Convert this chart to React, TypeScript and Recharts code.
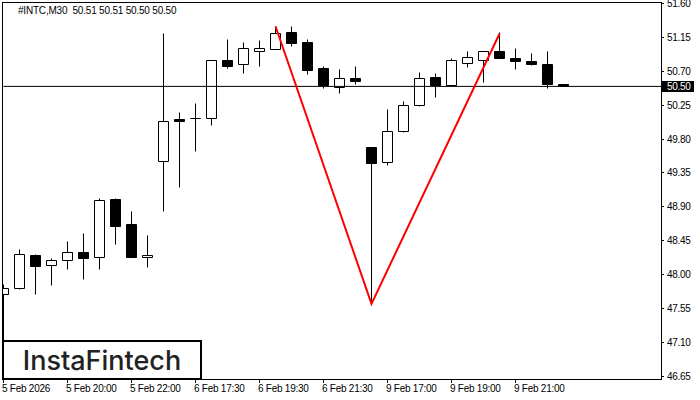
import { Bar, ComposedChart, Line, ReferenceLine, XAxis, YAxis } from "recharts";

const opens = [47.74, 47.82, 48.25, 48.12, 48.19, 48.29, 48.22, 49.0, 48.66, 48.22, 49.5, 50.06, 50.07, 50.08, 50.85, 50.79, 50.97, 50.99, 51.21, 51.09, 50.74, 50.49, 50.6, 49.69, 49.49, 49.9, 50.25, 50.62, 50.51, 50.81, 50.85, 50.96, 50.87, 50.83, 50.79, 50.52];
const highs = [47.87, 48.33, 48.26, 48.21, 48.44, 48.54, 49.01, 49.01, 48.84, 48.52, 51.2, 50.15, 50.27, 50.85, 51.12, 51.09, 51.11, 51.29, 51.29, 51.13, 50.76, 50.72, 50.76, 49.69, 50.19, 50.3, 50.68, 50.67, 50.87, 50.96, 50.96, 51.21, 51.0, 50.94, 50.96, 50.52];
const lows = [46.63, 47.8, 47.73, 47.85, 48.07, 47.93, 48.07, 48.4, 48.22, 48.1, 48.84, 49.16, 49.63, 49.98, 50.74, 50.67, 50.77, 50.99, 51.03, 50.66, 50.47, 50.4, 50.52, 47.61, 49.45, 49.89, 50.23, 50.35, 50.51, 50.75, 50.55, 50.87, 50.72, 50.78, 50.47, 50.5];
const closes = [47.81, 48.26, 48.11, 48.18, 48.29, 48.21, 48.98, 48.64, 48.23, 48.25, 50.03, 50.04, 50.07, 50.85, 50.77, 51.0, 51.01, 51.2, 51.07, 50.71, 50.51, 50.61, 50.56, 49.48, 49.9, 50.25, 50.61, 50.51, 50.84, 50.88, 50.96, 50.87, 50.83, 50.79, 50.52, 50.5];
const pattern: Record<number, number> = { 17: 51.3, 23: 47.61, 31: 51.2 };

const priceTicks = [51.6, 51.15, 50.7, 50.5, 50.25, 49.8, 49.35, 48.9, 48.45, 48.0, 47.55, 47.1, 46.65];
const dateTicks = [0, 4, 8, 12, 16, 20, 24, 28, 32];
const dateLabels = ["5 Feb 2026", "5 Feb 20:00", "5 Feb 22:00", "6 Feb 17:30", "6 Feb 19:30", "6 Feb 21:30", "9 Feb 17:00", "9 Feb 19:00", "9 Feb 21:00"];
const lastPrice = 50.5;

const data = opens.map((open, i) => ({
  idx: i,
  open,
  high: highs[i],
  low: lows[i],
  close: closes[i],
  pattern: pattern[i] ?? null,
}));

const FONT = '"Liberation Sans", sans-serif';
const snap = (v: number) => Math.floor(v + 0.01) + 0.5;

function Candle(props: any) {
  const { x, y, width, height, payload } = props;
  const top = Math.min(y, y + height);
  const h = Math.abs(height);
  const pxPerUnit = h / (payload.high - payload.low);
  const yOf = (price: number) => top + (payload.high - price) * pxPerUnit;
  const cx = snap(x + width / 2);
  const up = payload.close >= payload.open;
  const bodyTop = snap(yOf(Math.max(payload.open, payload.close)));
  const bodyBottom = snap(yOf(Math.min(payload.open, payload.close)));
  const left = Math.max(cx - 5, 2.5);
  const right = cx + 5;
  return (
    <g>
      <line x1={cx} x2={cx} y1={snap(top)} y2={snap(top + h)} stroke="#000" />
      <path
        d={`M${left} ${bodyTop}H${right}V${bodyBottom}H${left}Z`}
        fill={up ? "#fff" : "#000"}
        stroke="#000"
      />
    </g>
  );
}

// the price scale sits right of the plot, so ticks are drawn from the plot edge
function PriceTick(props: any) {
  const { y, payload } = props;
  if (payload.value === lastPrice) {
    return (
      <g>
        <rect x={662} y={81} width={32} height={11} fill="#000" />
        <text x={667} y={y + 3.5} fontSize={10} letterSpacing={-0.3} fontFamily={FONT} fill="#fff">
          {payload.value.toFixed(2)}
        </text>
      </g>
    );
  }
  return (
    <g>
      <line x1={661} x2={664} y1={snap(y)} y2={snap(y)} stroke="#000" />
      <text x={667} y={y + 3.5} fontSize={10} letterSpacing={-0.3} fontFamily={FONT} fill="#000">
        {payload.value.toFixed(2)}
      </text>
    </g>
  );
}

function DateTick(props: any) {
  const { x, payload } = props;
  const label = dateLabels[dateTicks.indexOf(payload.value)];
  return (
    <g>
      <line x1={snap(x)} x2={snap(x)} y1={380} y2={383} stroke="#000" />
      <text x={x - 1.5} y={392} fontSize={10} letterSpacing={-0.25} fontFamily={FONT} fill="#000">
        {label}
      </text>
    </g>
  );
}

export default function App() {
  return (
    <div style={{ position: "absolute", left: 0, top: 0, width: 700, height: 400, background: "#fff", overflow: "hidden" }}>
      <div
        style={{
          position: "absolute",
          left: 2,
          top: 2,
          width: 658,
          height: 376,
          border: "1px solid #000",
        }}
      />
      <ComposedChart
        width={700}
        height={400}
        data={data}
        margin={{ top: 2.5, right: 38.5, bottom: 0, left: 2.5 }}
        style={{ position: "absolute", left: 0, top: 0 }}
      >
        <XAxis
          dataKey="idx"
          type="number"
          domain={[0, 41.125]}
          ticks={dateTicks}
          interval={0}
          height={20.5}
          axisLine={false}
          tickLine={false}
          tick={DateTick}
        />
        <YAxis
          domain={[46.605, 51.615]}
          ticks={priceTicks}
          interval={0}
          width={1}
          axisLine={false}
          tickLine={false}
          tick={PriceTick}
        />
        <Bar dataKey={(d: any) => [d.low, d.high]} barSize={10} shape={Candle} isAnimationActive={false} />
        <ReferenceLine y={lastPrice} stroke="#000" strokeWidth={1} />
        <Line
          dataKey="pattern"
          stroke="#ff0000"
          strokeWidth={2}
          dot={false}
          activeDot={false}
          connectNulls
          isAnimationActive={false}
        />
      </ComposedChart>
      <div
        style={{
          position: "absolute",
          left: 18,
          top: 4,
          fontFamily: FONT,
          fontSize: 10,
          letterSpacing: -0.2,
          lineHeight: "13px",
          color: "#000",
          whiteSpace: "pre",
        }}
      >
        {"#INTC,M30  50.51 50.51 50.50 50.50"}
      </div>
      <div
        style={{
          position: "absolute",
          left: 2,
          top: 340,
          width: 196,
          height: 36,
          border: "2px solid #000",
          background: "#fff",
          textAlign: "center",
          fontFamily: "Inter, sans-serif",
          fontSize: 27,
          fontWeight: 500,
          lineHeight: "38px",
          color: "#222",
        }}
      >
        InstaFintech
      </div>
    </div>
  );
}
